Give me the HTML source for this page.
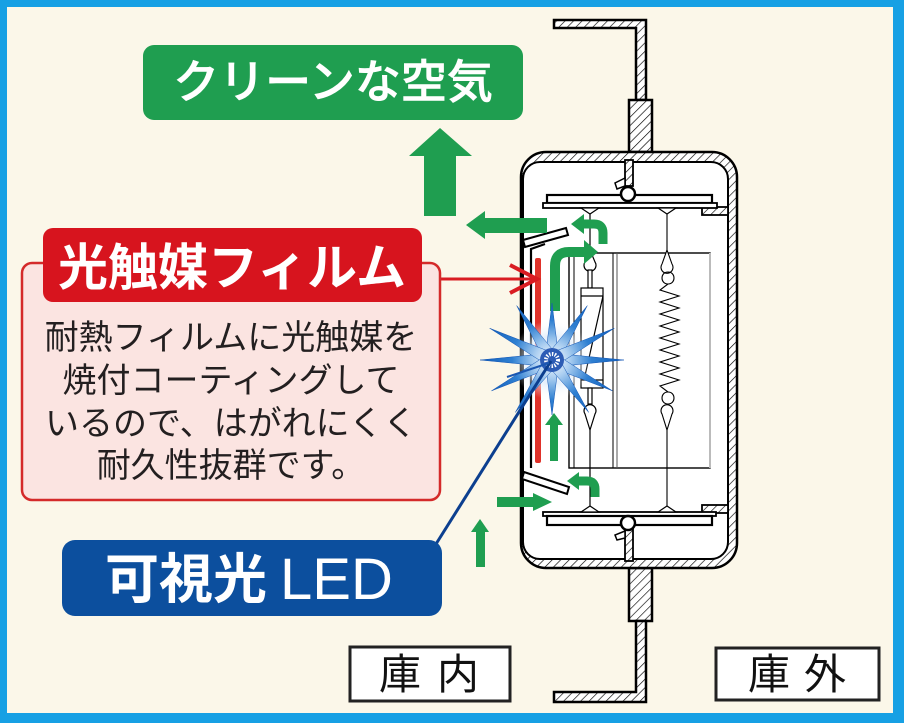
<!DOCTYPE html>
<html><head><meta charset="utf-8">
<style>html,body{margin:0;padding:0;background:#fbf7e9;overflow:hidden}svg{display:block}</style>
</head><body>
<svg width="904" height="723" viewBox="0 0 904 723" xmlns="http://www.w3.org/2000/svg" font-family="'Liberation Sans','Noto Sans CJK JP',sans-serif">
<defs>
<pattern id="h" width="6" height="6" patternUnits="userSpaceOnUse" patternTransform="rotate(45)"><rect width="6" height="6" fill="#fff"/><line x1="0" y1="0" x2="0" y2="6" stroke="#000" stroke-width="1.3"/></pattern>
<radialGradient id="rg" cx="552" cy="360" r="72" gradientUnits="userSpaceOnUse">
<stop offset="0" stop-color="#ffffff"/><stop offset="0.25" stop-color="#a9cdf0"/><stop offset="0.55" stop-color="#2f80d2"/><stop offset="1" stop-color="#0f5cb8"/></radialGradient>
<radialGradient id="glow" cx="552" cy="360" r="40" gradientUnits="userSpaceOnUse">
<stop offset="0" stop-color="#ffffff" stop-opacity="0.95"/><stop offset="0.6" stop-color="#dbe9f9" stop-opacity="0.7"/><stop offset="1" stop-color="#ffffff" stop-opacity="0"/></radialGradient>
</defs>

<rect x="0" y="0" width="904" height="723" fill="#17a0e4"/>
<rect x="7" y="7" width="886" height="706" fill="#fbf7e9"/>

<polygon points="554,20 646,20 646,100 636,100 636,28 554,28" fill="url(#h)" stroke="#000" stroke-width="2.5"/>
<rect x="629" y="100" width="23" height="52" fill="url(#h)" stroke="#000" stroke-width="2.5"/>
<rect x="629" y="568" width="23" height="53" fill="url(#h)" stroke="#000" stroke-width="2.5"/>
<polygon points="636,621 646,621 646,702 554,702 554,692 636,692" fill="url(#h)" stroke="#000" stroke-width="2.5"/>

<rect x="521" y="152" width="216" height="416" rx="25" fill="url(#h)" stroke="#000" stroke-width="2.5"/>
<rect x="523" y="162" width="205" height="397" rx="17" fill="#fff" stroke="#000" stroke-width="2"/>
<line x1="521.5" y1="175" x2="521.5" y2="545" stroke="#000" stroke-width="3"/>

<rect x="625" y="160" width="8" height="26" fill="url(#h)" stroke="#000" stroke-width="1.8"/>
<polygon points="625,178 615,183 617,189 625,186" fill="#fff" stroke="#000" stroke-width="1.5"/>
<rect x="625" y="527" width="8" height="34" fill="url(#h)" stroke="#000" stroke-width="1.8"/>
<polygon points="625,531 615,535 617,540 625,538" fill="#fff" stroke="#000" stroke-width="1.5"/>

<rect x="702" y="207" width="26" height="8" fill="url(#h)" stroke="#000" stroke-width="1.8"/>
<rect x="702" y="505" width="26" height="8" fill="url(#h)" stroke="#000" stroke-width="1.8"/>

<rect x="547" y="195" width="165" height="8" fill="#fff" stroke="#000" stroke-width="2.2"/>
<rect x="543" y="203" width="174" height="5" fill="#fff" stroke="#000" stroke-width="1.8"/>
<rect x="543" y="512" width="173" height="4" fill="#fff" stroke="#000" stroke-width="1.8"/>
<rect x="547" y="516" width="165" height="9" fill="#fff" stroke="#000" stroke-width="2.2"/>
<circle cx="628" cy="194" r="7" fill="#fff" stroke="#000" stroke-width="2.5"/>
<circle cx="628" cy="523" r="7" fill="#fff" stroke="#000" stroke-width="2.5"/>

<polygon points="581,208 599,208 590,214" fill="#fff" stroke="#000" stroke-width="1.2"/>
<polygon points="658,208 676,208 667,214" fill="#fff" stroke="#000" stroke-width="1.2"/>
<polygon points="581,512 599,512 590,506" fill="#fff" stroke="#000" stroke-width="1.2"/>
<polygon points="658,512 676,512 667,506" fill="#fff" stroke="#000" stroke-width="1.2"/>

<rect x="569" y="253" width="141" height="215" fill="none" stroke="#000" stroke-width="1.4"/>
<line x1="710" y1="253" x2="710" y2="468" stroke="#bbb" stroke-width="2"/>
<line x1="574" y1="253" x2="574" y2="468" stroke="#000" stroke-width="1"/>
<line x1="613" y1="253" x2="613" y2="468" stroke="#000" stroke-width="1"/>
<line x1="617" y1="253" x2="617" y2="468" stroke="#555" stroke-width="1"/>

<g fill="#fff" stroke="#000" stroke-width="1.2">
<line x1="590" y1="214" x2="590" y2="252"/>
<path d="M590,250 L595,262 A6,6 0 1 1 585,262 Z"/>
<rect x="588" y="270" width="4" height="18"/>
<rect x="581" y="288" width="22" height="100"/>
<line x1="581" y1="296" x2="603" y2="296"/>
<line x1="581" y1="380" x2="603" y2="380"/>
<line x1="603" y1="296" x2="584" y2="380"/>
<rect x="588" y="388" width="4" height="16"/>
<path d="M590,430 L595,414 A6,6 0 1 0 585,414 Z"/>
<line x1="590" y1="430" x2="590" y2="506"/>
</g>
<g fill="none" stroke="#000" stroke-width="1.1">
<line x1="667" y1="214" x2="667" y2="252"/>
<path d="M667,250 L672,264 A6,6 0 1 1 662,264 Z" fill="#fff"/>
<path d="M668,272 C660,272 660,284 668,284 C676,284 676,272 668,272"/>
<polyline points="668,284 660,290 679,296 660,302 679,308 660,314 679,320 660,326 679,332 660,338 679,344 660,350 679,356 660,362 679,368 660,374 679,380 660,386 668,392"/>
<path d="M668,392 C660,392 660,404 668,404 C676,404 676,392 668,392"/>
<path d="M667,430 L672,414 A6,6 0 1 0 662,414 Z" fill="#fff"/>
<line x1="667" y1="430" x2="667" y2="506"/>
</g>

<polygon points="523,240 566,228 568,235 525,247" fill="#fff" stroke="#000" stroke-width="2"/>
<polyline points="545,244 531,249 531,468" fill="none" stroke="#000" stroke-width="2.2"/>
<polygon points="524,472 569,487 567,494 522,479" fill="#fff" stroke="#000" stroke-width="2"/>

<rect x="535" y="258" width="6" height="205" rx="2" fill="#e0322a"/>

<g fill="#1f9e50">
<polygon points="440,128 472,156 456,156 456,216 424,216 424,156 409,156"/>
<polygon points="466,225 485,211 485,218 547,218 547,233 485,233 485,239"/>
<polygon points="571,224 584,214 584,234"/>
<polygon points="598,252 584,240 584,264"/>
<polygon points="554,413 545,425 563,425"/>
<rect x="550" y="424" width="8" height="37"/>
<polygon points="567,481 579,472 579,490"/>
<polygon points="497,497 533,497 533,493 552,502 533,511 533,507 497,507"/>
<polygon points="480,519 471,532 489,532"/>
<rect x="476" y="531" width="9" height="36"/>
</g>
<g fill="none" stroke="#1f9e50" stroke-linejoin="round">
<path d="M603,244 L603,233 Q603,224 594,224 L583,224" stroke-width="9"/>
<path d="M555,311 L555,266 Q555,252 569,252 L586,252" stroke-width="10"/>
<path d="M595,497 L595,489 Q595,481 587,481 L578,481" stroke-width="9"/>
</g>

<circle cx="552" cy="360" r="40" fill="url(#glow)"/>
<g fill="url(#rg)" stroke="#1557b5" stroke-width="0.5">
<polygon points="624,360 552,353 552,367"/>
<polygon points="480,360 552,367 552,353"/>
<polygon points="552,303 545,360 559,360"/>
<polygon points="552,415 545,360 559,360"/>
<polygon points="516.6,305.5 557.9,356.2 546.1,363.8"/>
<polygon points="587.4,305.5 557.9,363.8 546.1,356.2"/>
<polygon points="489.6,328.2 555.2,353.8 548.8,366.2"/>
<polygon points="614.4,328.2 555.2,366.2 548.8,353.8"/>
<polygon points="491.4,390.9 548.8,353.8 555.2,366.2"/>
<polygon points="612.6,390.9 548.8,366.2 555.2,353.8"/>
<polygon points="515.3,412.4 546.3,356 557.7,364"/>
<polygon points="588.7,412.4 546.3,364 557.7,356"/>
</g>
<circle cx="552" cy="360" r="12" fill="#2d5cb5"/>
<circle cx="552" cy="360" r="6" fill="none" stroke="#fff" stroke-width="4" stroke-dasharray="1.4 1.4"/>

<line x1="436" y1="544" x2="551" y2="361" stroke="#0c3f8f" stroke-width="3"/>
<line x1="507" y1="377" x2="549" y2="363" stroke="#1a56b0" stroke-width="2"/>

<line x1="438" y1="279" x2="536" y2="279" stroke="#d91c22" stroke-width="3"/>
<polyline points="510,265 537,279 510,293" fill="none" stroke="#d91c22" stroke-width="4"/>

<rect x="143" y="45" width="380" height="75" rx="11" fill="#1f9e50"/>
<text x="333" y="98" font-size="46" fill="#fff" text-anchor="middle" font-weight="500" stroke="#fff" stroke-width="0.6">クリーンな空気</text>

<rect x="22" y="263" width="418" height="237" rx="10" fill="#fbe4e1" stroke="#d42a2a" stroke-width="2.5"/>
<rect x="43" y="228" width="379" height="74" rx="10" fill="#d7141e"/>
<text x="232" y="285" font-size="50" fill="#fff" text-anchor="middle" font-weight="bold">光触媒フィルム</text>
<g font-size="34" fill="#231f20" text-anchor="middle">
<text x="231" y="349">耐熱フィルムに光触媒を</text>
<text x="231" y="392">焼付コーティングして</text>
<text x="231" y="435">いるので、はがれにくく</text>
<text x="231" y="477">耐久性抜群です。</text>
</g>

<rect x="62" y="540" width="380" height="76" rx="13" fill="#0c4f9e"/>
<text x="105" y="598" font-size="54" fill="#fff" font-weight="bold">可視光</text>
<text x="280" y="599" font-size="58" fill="#fff">LED</text>

<rect x="350" y="647" width="160" height="54" fill="#fff" stroke="#222" stroke-width="3"/>
<g font-size="42" fill="#111" text-anchor="middle">
<text x="400" y="689">庫</text><text x="458" y="689">内</text>
</g>
<rect x="716" y="648" width="163" height="52" fill="#fff" stroke="#222" stroke-width="3"/>
<g font-size="42" fill="#111" text-anchor="middle">
<text x="769" y="689">庫</text><text x="825" y="689">外</text>
</g>
</svg>
</body></html>
